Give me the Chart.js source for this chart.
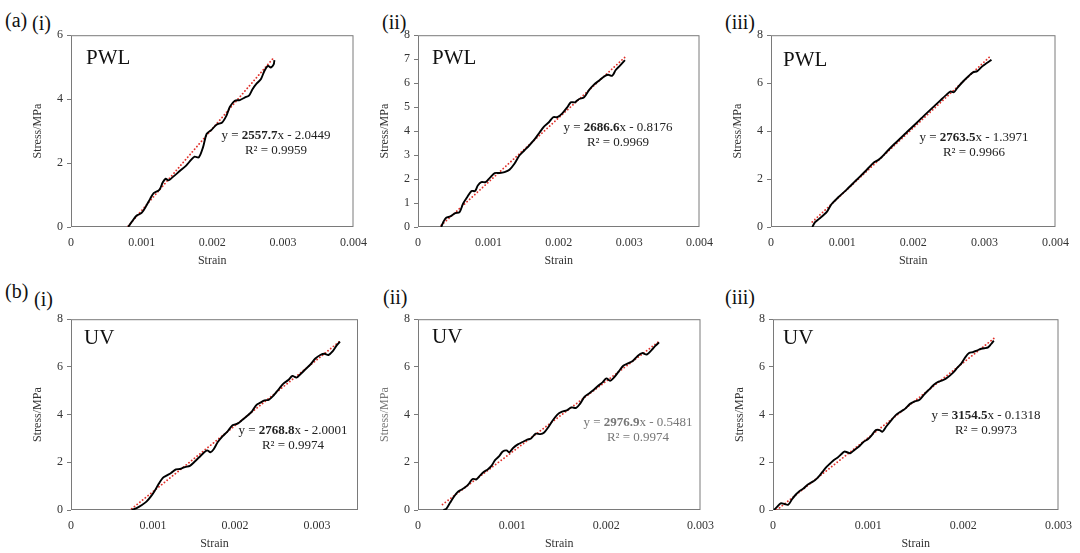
<!DOCTYPE html>
<html lang="en">
<head>
  <meta charset="UTF-8">
  <title>Stress-strain curves, PWL and UV</title>
  <script src="https://cdn.jsdelivr.net/npm/chart.js"></script>
  <style>
    body {
      margin: 0;
      width: 1080px;
      height: 553px;
      background: #fff;
      position: relative;
      overflow: hidden;
      font-family: 'Liberation Serif', 'Times New Roman', serif;
      color: #111;
    }
    canvas { position: absolute; }
    .lbl { position: absolute; font-size: 20px; line-height: 20px; }
    .tag { position: absolute; font-size: 21px; line-height: 21px; }
    .eq {
      position: absolute;
      font-size: 13px;
      line-height: 15px;
      text-align: center;
      white-space: nowrap;
      transform: translateX(-50%);
      color: #222;
    }
  </style>
</head>
<body>
  <div class="lbl" style="left:5px;top:10px">(a)</div>
  <div class="lbl" style="left:32px;top:13px">(i)</div>
  <div class="lbl" style="left:382px;top:12px">(ii)</div>
  <div class="lbl" style="left:725px;top:12px">(iii)</div>
  <div class="lbl" style="left:5px;top:281px">(b)</div>
  <div class="lbl" style="left:34px;top:289px">(i)</div>
  <div class="lbl" style="left:383px;top:287px">(ii)</div>
  <div class="lbl" style="left:725px;top:287px">(iii)</div>

  <script>
    // tick values
    const xTicks4 = [0, 0.001, 0.002, 0.003, 0.004];
    const xTicks3 = [0, 0.001, 0.002, 0.003];
    const yTicks6 = [0, 2, 4, 6];
    const yTicks8 = [0, 2, 4, 6, 8];
    const yTicks8by1 = [0, 1, 2, 3, 4, 5, 6, 7, 8];

    // (a)(i) PWL
    const strainA1 = [0.00081,0.00086,0.00093,0.001,0.00107,0.00112,0.00117,0.00125,0.0013,0.00134,0.00138,0.00144,0.00154,0.00163,0.0017,0.00175,0.00181,0.00187,0.00192,0.00199,0.00206,0.00214,0.0022,0.00225,0.00232,0.00239,0.00246,0.00252,0.00257,0.00263,0.00269,0.00274,0.00279,0.00283,0.00287,0.00288];
    const stressA1 = [0,0.16,0.36,0.44,0.68,0.88,1.06,1.16,1.4,1.51,1.46,1.56,1.75,1.92,2.1,2.2,2.18,2.5,2.91,3.04,3.2,3.27,3.48,3.76,3.95,3.97,4.05,4.11,4.31,4.49,4.63,4.89,5.04,4.99,5.09,5.22];
    const trendA1 = [[0.00081, 0.03], [0.00288, 5.32]];

    // (a)(ii) PWL
    const strainA2 = [0.00033,0.00036,0.0004,0.00046,0.00053,0.00059,0.00064,0.0007,0.00076,0.00081,0.00085,0.0009,0.00096,0.00102,0.00109,0.00116,0.00123,0.0013,0.00137,0.00144,0.00151,0.00158,0.00165,0.00172,0.00179,0.00186,0.00192,0.00198,0.00205,0.00212,0.00217,0.00223,0.00229,0.00236,0.00243,0.0025,0.00257,0.00264,0.0027,0.00276,0.00281,0.00287,0.00294];
    const stressA2 = [0,0.21,0.39,0.44,0.58,0.62,0.97,1.25,1.5,1.5,1.73,1.87,1.87,2.05,2.25,2.25,2.29,2.39,2.64,2.98,3.19,3.4,3.63,3.91,4.19,4.37,4.58,4.58,4.74,4.99,5.2,5.2,5.34,5.41,5.71,5.94,6.1,6.27,6.35,6.31,6.55,6.73,6.96];
    const trendA2 = [[0.00033, 0.07], [0.00294, 7.08]];

    // (a)(iii) PWL
    const strainA3 = [0.00058,0.00062,0.00068,0.00074,0.00079,0.00085,0.00095,0.00106,0.00113,0.00118,0.00125,0.00135,0.00145,0.0015,0.00155,0.00163,0.00173,0.00182,0.00189,0.00196,0.00205,0.00212,0.00219,0.00228,0.00237,0.00246,0.00252,0.00257,0.00262,0.00271,0.00278,0.00284,0.0029,0.00297,0.00304,0.0031];
    const stressA3 = [0,0.2,0.35,0.5,0.65,0.95,1.25,1.55,1.75,1.9,2.1,2.4,2.7,2.78,2.9,3.15,3.45,3.7,3.9,4.1,4.35,4.55,4.75,5.0,5.25,5.5,5.65,5.62,5.8,6.1,6.3,6.45,6.5,6.7,6.85,6.97];
    const trendA3 = [[0.00058, 0.21], [0.0031, 7.17]];

    // (b)(i) UV
    const strainB1 = [0.00074,0.0008,0.00086,0.00092,0.00097,0.00102,0.00107,0.00112,0.00117,0.00122,0.00128,0.00133,0.00139,0.00145,0.0015,0.00156,0.00162,0.00166,0.0017,0.00174,0.00179,0.00185,0.00191,0.00197,0.00203,0.00209,0.00215,0.00221,0.00226,0.00231,0.00236,0.00241,0.00247,0.00253,0.00259,0.00265,0.0027,0.00275,0.0028,0.00286,0.00292,0.00298,0.00304,0.00309,0.00314,0.00319,0.00324,0.00328];
    const stressB1 = [0,0.08,0.2,0.35,0.55,0.8,1.1,1.35,1.45,1.55,1.7,1.72,1.8,1.85,2.0,2.2,2.4,2.5,2.42,2.55,2.85,3.1,3.3,3.55,3.62,3.78,3.95,4.15,4.4,4.5,4.6,4.62,4.8,5.05,5.3,5.45,5.62,5.55,5.7,5.9,6.1,6.35,6.5,6.55,6.5,6.65,6.9,7.06];
    const trendB1 = [[0.00074, 0.05], [0.00328, 7.08]];

    // (b)(ii) UV
    const strainB2 = [0.00027,0.0003,0.00034,0.00038,0.00042,0.00046,0.0005,0.00054,0.00058,0.00062,0.00066,0.0007,0.00074,0.00078,0.00082,0.00086,0.0009,0.00094,0.00097,0.00101,0.00106,0.00111,0.00116,0.0012,0.00125,0.0013,0.00134,0.00138,0.00143,0.00148,0.00153,0.00158,0.00163,0.00168,0.00172,0.00177,0.00182,0.00187,0.00191,0.00196,0.002,0.00204,0.00208,0.00213,0.00218,0.00223,0.00228,0.00233,0.00238,0.00243,0.00248,0.00252,0.00256];
    const stressB2 = [0,0.05,0.3,0.55,0.75,0.85,0.95,1.1,1.3,1.28,1.45,1.6,1.7,1.85,2.1,2.25,2.45,2.5,2.42,2.6,2.75,2.85,2.95,3.0,3.2,3.18,3.25,3.45,3.75,4.0,4.12,4.18,4.3,4.28,4.45,4.75,4.9,5.05,5.2,5.35,5.52,5.42,5.55,5.8,6.05,6.15,6.25,6.45,6.58,6.52,6.7,6.88,7.03];
    const trendB2 = [[0.00026, 0.23], [0.00256, 7.07]];

    // (b)(iii) UV
    const strainB3 = [0.00001,0.00004,0.00008,0.00012,0.00016,0.0002,0.00024,0.00028,0.00032,0.00036,0.0004,0.00044,0.00048,0.00052,0.00056,0.0006,0.00064,0.00068,0.00072,0.00075,0.00078,0.00081,0.00085,0.0009,0.00095,0.001,0.00104,0.00108,0.00112,0.00115,0.00119,0.00124,0.00129,0.00134,0.00139,0.00144,0.00149,0.00154,0.00159,0.00164,0.00169,0.00174,0.00179,0.00184,0.00189,0.00194,0.00198,0.00202,0.00206,0.0021,0.00214,0.00218,0.00222,0.00226,0.00229,0.00232];
    const stressB3 = [0,0.12,0.28,0.25,0.22,0.45,0.65,0.8,0.9,1.05,1.15,1.25,1.4,1.6,1.8,1.95,2.1,2.2,2.35,2.45,2.42,2.38,2.5,2.65,2.85,2.98,3.15,3.35,3.35,3.28,3.5,3.75,3.98,4.12,4.25,4.45,4.55,4.62,4.85,5.05,5.25,5.38,5.45,5.58,5.75,5.98,6.15,6.4,6.58,6.62,6.68,6.75,6.78,6.82,6.95,7.1];
    const trendB3 = [[0.00004, 0], [0.00232, 7.19]];

    const panels = [
      { box: [71, 34, 356, 227], xTicks: xTicks4, xMax: 0.004, yTicks: yTicks6, yMax: 6,
        strain: strainA1, stress: stressA1, trend: trendA1, tag: 'PWL', tagAt: [86, 47],
        eq: ['2557.7', 'x - 2.0449', '0.9959'], eqAt: [276, 127], ink: '#222' },
      { box: [418, 34, 702, 227], xTicks: xTicks4, xMax: 0.004, yTicks: yTicks8by1, yMax: 8,
        strain: strainA2, stress: stressA2, trend: trendA2, tag: 'PWL', tagAt: [432, 47],
        eq: ['2686.6', 'x - 0.8176', '0.9969'], eqAt: [618, 119], ink: '#222' },
      { box: [771, 34, 1058, 227], xTicks: xTicks4, xMax: 0.004, yTicks: yTicks8, yMax: 8,
        strain: strainA3, stress: stressA3, trend: trendA3, tag: 'PWL', tagAt: [783, 49],
        eq: ['2763.5', 'x - 1.3971', '0.9966'], eqAt: [974, 129], ink: '#222' },
      { box: [71, 318, 358, 510], xTicks: xTicks3, xMax: 0.0035, yTicks: yTicks8, yMax: 8,
        strain: strainB1, stress: stressB1, trend: trendB1, tag: 'UV', tagAt: [84, 327],
        eq: ['2768.8', 'x - 2.0001', '0.9974'], eqAt: [293, 422], ink: '#222' },
      { box: [418, 318, 703, 510], xTicks: xTicks3, xMax: 0.003, yTicks: yTicks8, yMax: 8,
        strain: strainB2, stress: stressB2, trend: trendB2, tag: 'UV', tagAt: [432, 326],
        eq: ['2976.9', 'x - 0.5481', '0.9974'], eqAt: [638, 414], ink: '#777' },
      { box: [773, 318, 1061, 510], xTicks: xTicks3, xMax: 0.003, yTicks: yTicks8, yMax: 8,
        strain: strainB3, stress: stressB3, trend: trendB3, tag: 'UV', tagAt: [783, 327],
        eq: ['3154.5', 'x - 0.1318', '0.9973'], eqAt: [986, 407], ink: '#222' }
    ];

    // grey box round the plot area, like the Excel frame
    const frame = {
      id: 'frame',
      beforeDatasetsDraw(chart) {
        const { ctx, chartArea: a } = chart;
        ctx.save();
        ctx.strokeStyle = '#7a7a7a';
        ctx.lineWidth = 1;
        ctx.strokeRect(a.left + 0.5, a.top + 0.5, a.width - 1, a.height - 1);
        ctx.restore();
      }
    };

    const Y_W = 40, X_H = 42, PAD_T = 10, PAD_R = 12;

    panels.forEach(p => {
      const [L, T, R, B] = p.box;
      const cv = document.createElement('canvas');
      cv.width = R - L + Y_W + PAD_R;
      cv.height = B - T + PAD_T + X_H;
      cv.style.left = (L - Y_W) + 'px';
      cv.style.top = (T - PAD_T) + 'px';
      document.body.appendChild(cv);

      const tag = document.createElement('div');
      tag.className = 'tag';
      tag.style.left = p.tagAt[0] + 'px';
      tag.style.top = p.tagAt[1] + 'px';
      tag.textContent = p.tag;
      document.body.appendChild(tag);

      const eq = document.createElement('div');
      eq.className = 'eq';
      eq.style.left = p.eqAt[0] + 'px';
      eq.style.top = p.eqAt[1] + 'px';
      eq.style.color = p.ink;
      eq.innerHTML = 'y = <b>' + p.eq[0] + '</b>' + p.eq[1] + '<br>R² = ' + p.eq[2];
      document.body.appendChild(eq);

      const tickFont = { family: "'Liberation Serif', serif", size: 12 };
      const titleFont = { family: "'Liberation Serif', serif", size: 12 };

      new Chart(cv, {
        type: 'scatter',
        data: {
          datasets: [{
            data: p.strain.map((x, i) => ({ x: x, y: p.stress[i] })),
            showLine: true,
            borderColor: '#000',
            borderWidth: 1.9,
            pointRadius: 0,
            tension: 0.3
          }, {
            data: p.trend.map(d => ({ x: d[0], y: d[1] })),
            showLine: true,
            borderColor: '#e0302a',
            borderWidth: 1.8,
            borderDash: [0.1, 3.4],
            borderCapStyle: 'round',
            pointRadius: 0
          }]
        },
        options: {
          responsive: false,
          animation: false,
          events: [],
          layout: { padding: { top: PAD_T, right: PAD_R, left: 0, bottom: 0 } },
          plugins: { legend: { display: false }, tooltip: { enabled: false } },
          scales: {
            x: {
              type: 'linear',
              min: 0,
              max: p.xMax,
              afterFit: s => { s.height = X_H; },
              afterBuildTicks: s => { s.ticks = p.xTicks.map(v => ({ value: v })); },
              border: { display: false },
              grid: { display: false },
              ticks: {
                font: tickFont, color: '#333', padding: 1, maxRotation: 0,
                callback: v => v === 0 ? '0' : v.toFixed(3)
              },
              title: { display: true, text: 'Strain', font: titleFont, color: '#333', padding: { top: 0, bottom: 1 } }
            },
            y: {
              min: 0,
              max: p.yMax,
              afterFit: s => { s.width = Y_W; },
              afterBuildTicks: s => { s.ticks = p.yTicks.map(v => ({ value: v })); },
              border: { display: false },
              grid: { drawOnChartArea: false, tickLength: 4, color: '#7a7a7a' },
              ticks: { font: tickFont, color: '#333', padding: 4 },
              title: { display: true, text: 'Stress/MPa', font: titleFont, color: p.ink === '#777' ? '#777' : '#333', padding: { top: 0, bottom: 1 } }
            }
          }
        },
        plugins: [frame]
      });
    });
  </script>
</body>
</html>
